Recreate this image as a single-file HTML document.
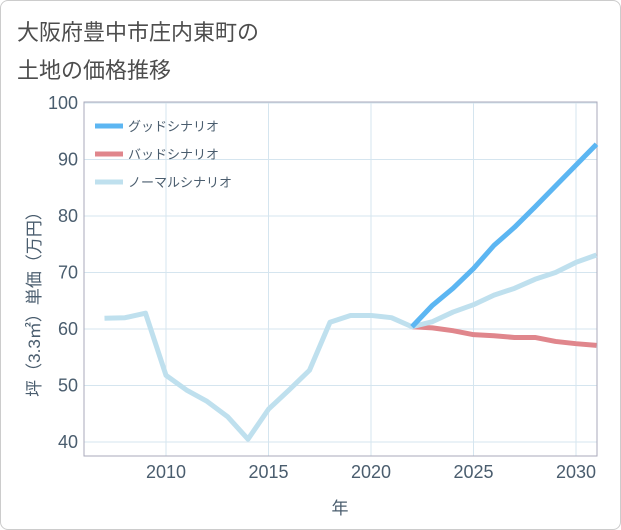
<!DOCTYPE html>
<html><head><meta charset="utf-8"><style>
body{margin:0;background:#fff;font-family:"Liberation Sans","Noto Sans CJK JP",sans-serif}
#wrap{position:relative;width:619px;height:528px;border:1px solid #ccc;border-radius:8px;background:#fff}
.t{position:absolute;left:16px;font-size:22px;color:#4d4d4d;}
</style></head><body>
<div id="wrap">
<div class="t" style="top:14px">大阪府豊中市庄内東町の</div>
<div class="t" style="top:52px">土地の価格推移</div>
<svg id="svg" width="621" height="530" style="position:absolute;left:-1px;top:-1px"></svg>
</div>
<script>
const years=[2007,2008,2009,2010,2011,2012,2013,2014,2015,2016,2017,2018,2019,2020,2021,2022,2023,2024,2025,2026,2027,2028,2029,2030,2031];
const normal=[61.9,62,62.8,51.8,49.2,47.2,44.5,40.5,45.8,49.2,52.7,61.2,62.4,62.4,62,60.4,61.3,63,64.3,66,67.2,68.8,70,71.8,73.1];
const fYears=[2022,2023,2024,2025,2026,2027,2028,2029,2030,2031];
const good=[60.4,64.2,67.2,70.7,74.8,78,81.6,85.3,89,92.7];
const bad=[60.4,60.2,59.7,59,58.8,58.5,58.5,57.8,57.4,57.1];
const xTicks=[2010,2015,2020,2025,2030];
const yTicks=[40,50,60,70,80,90,100];
const L=84,R=597,T=102,B=456;
const x=v=>166+(v-2010)*20.5;
const y=v=>442-(v-40)*5.65;
const TC='#4a5d6e';
const s=document.getElementById('svg');const NS='http://www.w3.org/2000/svg';
function el(t,a,p){const e=document.createElementNS(NS,t);for(const k in a)e.setAttribute(k,a[k]);(p||s).appendChild(e);return e;}
yTicks.forEach(v=>{const g=el('line',{x1:L,x2:R,y1:y(v),y2:y(v),stroke:'#d5e5ef','stroke-width':1});

const t=el('text',{x:L-6,y:y(v)+6,'text-anchor':'end','font-size':18,fill:TC});t.textContent=v;
});
xTicks.forEach(v=>{const g=el('line',{x1:x(v),x2:x(v),y1:T,y2:B,stroke:'#d5e5ef','stroke-width':1});

const t=el('text',{x:x(v),y:B+22,'text-anchor':'middle','font-size':18,fill:TC});t.textContent=v;
});
const fr=el('rect',{x:L,y:T,width:R-L,height:B-T,fill:'none',stroke:'#aab','stroke-width':1});

function line(xs,vs,c,n){const p=el('polyline',{points:xs.map((v,i)=>x(v)+','+y(vs[i])).join(' '),fill:'none',stroke:c,'stroke-width':5,'stroke-linejoin':'round'});
}
line(fYears,bad,'#e0868c','bad-scenario-line');
line(years,normal,'#bfe0ee','normal-scenario-line');
line(fYears,good,'#5cb6f2','good-scenario-line');
const leg=[['グッドシナリオ','#5cb6f2'],['バッドシナリオ','#e0868c'],['ノーマルシナリオ','#bfe0ee']];
leg.forEach((d,i)=>{const yy=126+i*28;
const l=el('line',{x1:95,x2:123,y1:yy,y2:yy,stroke:d[1],'stroke-width':5});

const t=el('text',{x:128,y:yy+5,'font-size':13,fill:TC});t.textContent=d[0];
});
const xt=el('text',{x:340,y:514,'text-anchor':'middle','font-size':17,fill:TC});xt.textContent='年';

const yt=el('text',{x:0,y:0,'text-anchor':'middle','font-size':17,fill:TC,transform:'translate(40,300) rotate(-90)'});yt.textContent='坪（3.3㎡）単価（万円）';

</script>
</body></html>
